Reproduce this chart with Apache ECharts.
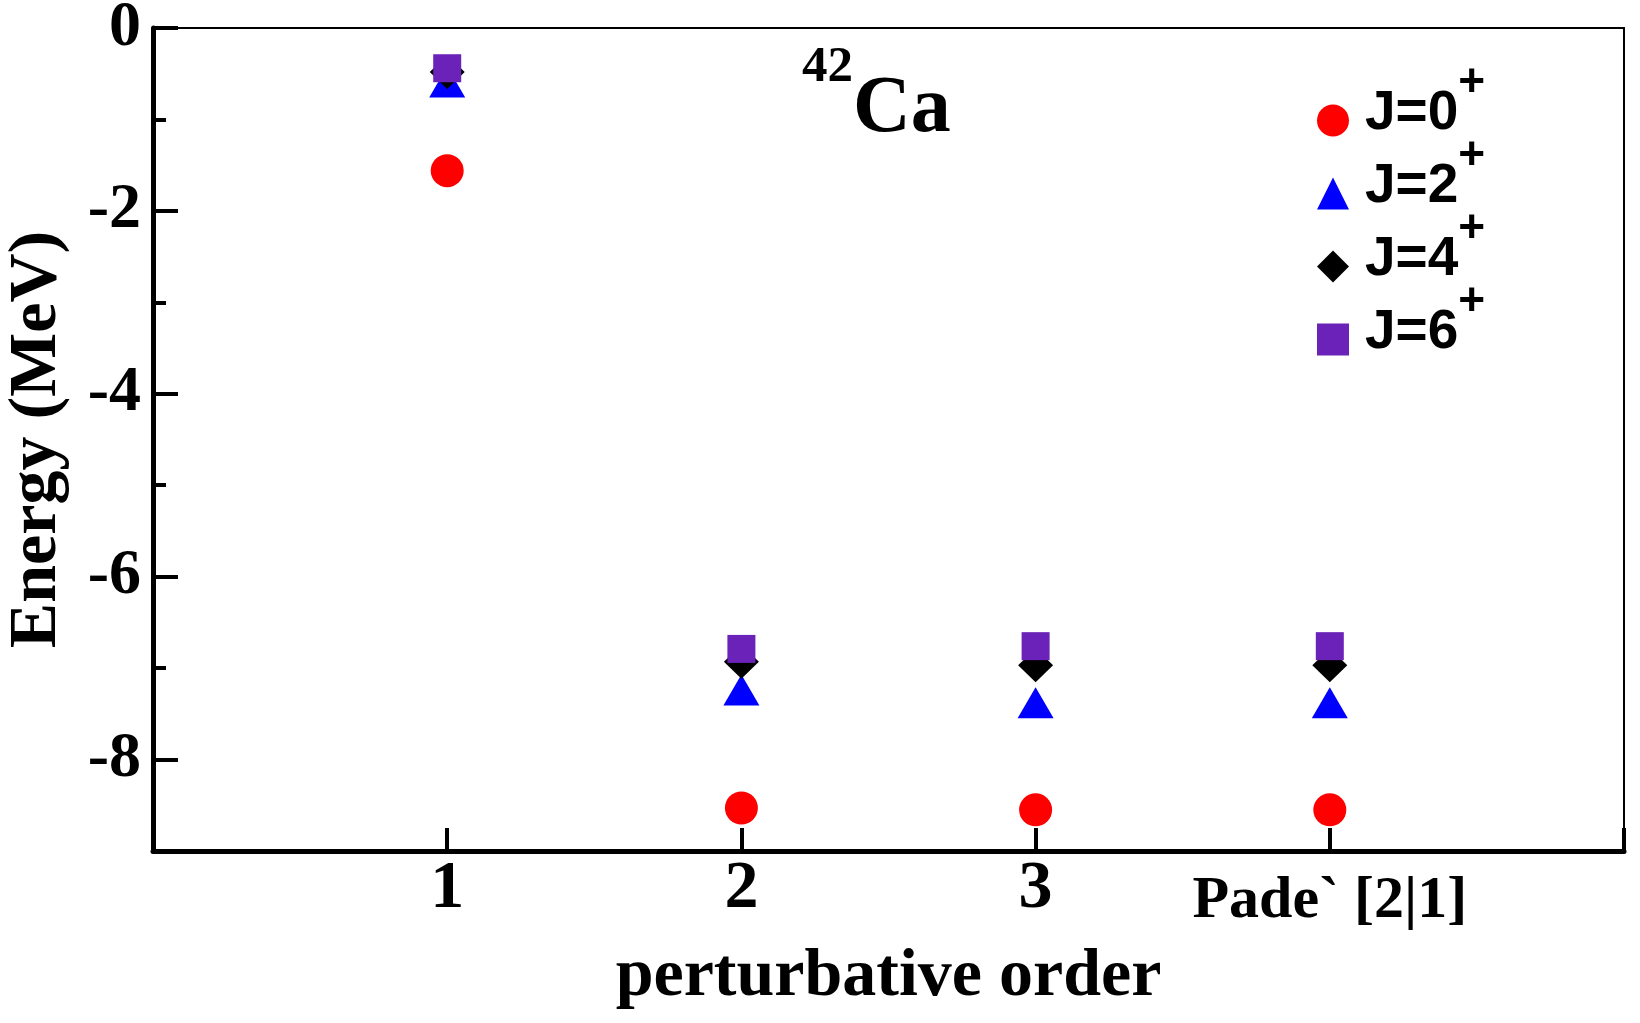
<!DOCTYPE html>
<html>
<head>
<meta charset="utf-8">
<script src="https://cdn.jsdelivr.net/npm/echarts@6/dist/echarts.min.js"></script>
<style>
  html, body { margin: 0; padding: 0; background: #fff; }
  #chart { width: 1640px; height: 1023px; }
</style>
</head>
<body>
<div id="chart"></div>
<script>
// x positions 1..4, labels under the ticks
const orderLabels = ['1', '2', '3', 'Pade` [2|1]']
const legendNames = ['J=0', 'J=2', 'J=4', 'J=6']
// energies in MeV
const j0 = [-1.56, -8.53, -8.55, -8.55]
const j2 = [-0.59, -7.24, -7.38, -7.38]
const j4 = [-0.48, -6.93, -6.97, -6.97]
const j6 = [-0.44, -6.79, -6.76, -6.76]

const serif = '"Liberation Serif", "Times New Roman", serif'
const sans = '"Liberation Sans", Arial, sans-serif'

function toPoints(vals) {
  return vals.map((v, i) => [i + 1, v])
}

const chart = echarts.init(document.getElementById('chart'))

const option = {
  backgroundColor: '#fff',
  animation: false,
  title: {
    text: '{s|42}{m|Ca}',
    left: 797,
    top: 37,
    textStyle: {
      rich: {
        s: { fontFamily: serif, fontWeight: 'bold', fontSize: 51, color: '#000', verticalAlign: 'top', lineHeight: 40 },
        m: { fontFamily: serif, fontWeight: 'bold', fontSize: 80, color: '#000', lineHeight: 137 }
      }
    }
  },
  legend: {
    orient: 'vertical',
    left: 1312,
    top: 55,
    itemWidth: 32,
    itemHeight: 32,
    itemGap: -22,
    data: [
      { name: legendNames[0], icon: 'circle' },
      { name: legendNames[1], icon: 'triangle' },
      { name: legendNames[2], icon: 'diamond' },
      { name: legendNames[3], icon: 'rect' }
    ],
    formatter: name => '{a|' + name + '}{s|+}',
    textStyle: {
      rich: {
        a: { fontFamily: sans, fontWeight: 'bold', fontSize: 55, color: '#000', lineHeight: 60, padding: [0, 0, 14, 11] },
        s: { fontFamily: sans, fontWeight: 'bold', fontSize: 46, color: '#000', verticalAlign: 'top', height: -15, lineHeight: 10 }
      }
    }
  },
  grid: { left: 153, right: 16, top: 28, bottom: 172, containLabel: false, outerBoundsMode: 'none' },
  xAxis: [
    {
      type: 'value',
      min: 0,
      max: 5,
      interval: 1,
      name: 'perturbative order',
      nameLocation: 'middle',
      nameGap: 92,
      nameTextStyle: { fontFamily: serif, fontWeight: 'bold', fontSize: 68, color: '#000' },
      axisLine: { onZero: false, lineStyle: { color: '#000', width: 5 } },
      axisTick: { inside: true, length: 23, lineStyle: { color: '#000', width: 4 } },
      axisLabel: {
        margin: 4,
        formatter: v => {
          const lab = orderLabels[v - 1]
          if (!lab) return ''
          return v === 4 ? '{p|' + lab + '}' : '{n|' + lab + '}'
        },
        rich: {
          n: { fontFamily: serif, fontWeight: 'bold', fontSize: 68, color: '#000' },
          p: { fontFamily: serif, fontWeight: 'bold', fontSize: 60, color: '#000', padding: [16, 0, 0, 0] }
        }
      },
      splitLine: { show: false }
    },
    {
      type: 'value',
      position: 'top',
      min: 0,
      max: 5,
      axisLine: { onZero: false, lineStyle: { color: '#000', width: 2 } },
      axisTick: { show: false },
      axisLabel: { show: false },
      splitLine: { show: false }
    }
  ],
  yAxis: [
    {
      type: 'value',
      min: -9,
      max: 0,
      name: 'Energy (MeV)',
      nameLocation: 'middle',
      nameGap: 82,
      nameTextStyle: { fontFamily: serif, fontWeight: 'bold', fontSize: 68, color: '#000' },
      axisLine: { onZero: false, lineStyle: { color: '#000', width: 5 } },
      axisTick: { inside: true, length: 25, lineStyle: { color: '#000', width: 4 } },
      minorTick: { show: true, splitNumber: 2, length: 13, lineStyle: { color: '#000', width: 4 } },
      axisLabel: {
        margin: 12,
        fontFamily: serif,
        fontWeight: 'bold',
        fontSize: 64,
        color: '#000',
        formatter: v => (v === -9 ? '' : String(v))
      },
      splitLine: { show: false },
      minorSplitLine: { show: false }
    },
    {
      type: 'value',
      position: 'right',
      min: -9,
      max: 0,
      axisLine: { onZero: false, lineStyle: { color: '#000', width: 2 } },
      axisTick: { show: false },
      axisLabel: { show: false },
      splitLine: { show: false }
    }
  ],
  series: [
    { name: legendNames[0], type: 'scatter', symbol: 'circle', symbolSize: 33, itemStyle: { color: '#ff0000', opacity: 1 }, data: toPoints(j0) },
    { name: legendNames[1], type: 'scatter', symbol: 'triangle', symbolSize: [36, 31], itemStyle: { color: '#0000ff', opacity: 1 }, data: toPoints(j2) },
    { name: legendNames[2], type: 'scatter', symbol: 'diamond', symbolSize: [35, 34], itemStyle: { color: '#000000', opacity: 1 }, data: toPoints(j4) },
    { name: legendNames[3], type: 'scatter', symbol: 'rect', symbolSize: 28, itemStyle: { color: '#6b22b8', opacity: 1 }, data: toPoints(j6) }
  ]
}

chart.setOption(option)
window.addEventListener('resize', function () {
  chart.resize()
})
</script>
</body>
</html>
